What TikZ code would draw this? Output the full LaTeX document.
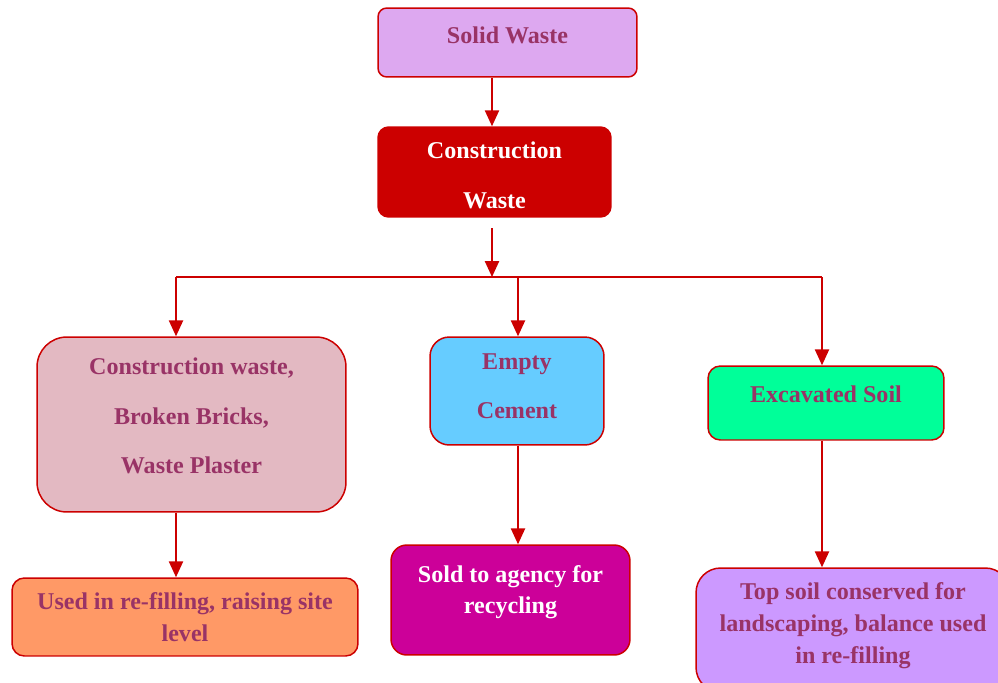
\documentclass[tikz,border=0pt]{standalone}
\usepackage{fontspec}
\setmainfont{Liberation Serif}
\usepackage{xcolor}
\usetikzlibrary{calc,arrows.meta,positioning}
\definecolor{lineRed}{RGB}{204,0,0}
\definecolor{textPlum}{RGB}{153,51,102}
\definecolor{fillLilac}{RGB}{221,168,240}
\definecolor{fillRose}{RGB}{227,185,194}
\definecolor{fillSky}{RGB}{102,204,255}
\definecolor{fillMint}{RGB}{0,255,153}
\definecolor{fillPeach}{RGB}{255,153,102}
\definecolor{fillMagenta}{RGB}{204,0,153}
\definecolor{fillViolet}{RGB}{204,153,255}
\tikzset{
  wbox/.style={draw=lineRed,line width=0.85pt,align=center,inner sep=2pt,
    font=\fontsize{13.7}{18}\selectfont\bfseries,text=textPlum},
  arr/.style={draw=lineRed,line width=1pt,-{Triangle[length=9pt,width=8pt]}},
  link/.style={draw=lineRed,line width=1pt}
}

\begin{document}
\begin{tikzpicture}[x=0.02cm,y=-0.02cm]
\clip (0,0) rectangle (998,683);
\useasboundingbox (0,0) rectangle (998,683);
% boxes
\node[wbox,fill=fillLilac,rounded corners=5pt,minimum width=5.18cm,minimum height=1.38cm,text depth=8.5pt] (solid) at (507.5,42.5) {Solid Waste};
\node[wbox,fill=lineRed,text=white,rounded corners=6pt,minimum width=4.66cm,minimum height=1.8cm,text depth=0pt] (constr) at (494.5,172) {\rule{0pt}{13pt}Construction\\[10pt]Waste};
\node[wbox,fill=fillRose,rounded corners=17pt,minimum width=6.18cm,minimum height=3.5cm,text depth=10pt] (bricks) at (191.5,424.5) {Construction waste,\\[10pt]Broken Bricks,\\[10pt]Waste Plaster};
\node[wbox,fill=fillSky,rounded corners=11pt,minimum width=3.48cm,minimum height=2.16cm,text depth=6pt] (cement) at (517,391) {Empty\\[10pt]Cement};
\node[wbox,fill=fillMint,rounded corners=7pt,minimum width=4.72cm,minimum height=1.48cm,text depth=10pt] (soil) at (826,403) {Excavated Soil};
\node[wbox,fill=fillPeach,rounded corners=7pt,minimum width=6.92cm,minimum height=1.56cm] (refill) at (185,617) {Used in re-filling, raising site\\level};
\node[wbox,fill=fillMagenta,text=white,rounded corners=9pt,minimum width=4.78cm,minimum height=2.2cm,text depth=12pt] (agency) at (510.5,600) {Sold to agency for\\recycling};
\node[wbox,fill=fillViolet,rounded corners=14pt,minimum width=6.28cm,minimum height=2.48cm,text depth=8pt] (topsoil) at (853,630) {Top soil conserved for\\landscaping, balance used\\in re-filling};
% connectors
\coordinate (start) at (492,228);
\coordinate (split) at (492,277);
\coordinate (colA) at (176,277);
\coordinate (colB) at (518,277);
\coordinate (colC) at (822,277);
\draw[arr] (492,0 |- solid.south) -- (492,0 |- constr.north);
\draw[arr] (start) -- (split);
\draw[link] (colA) -- (colC);
\draw[arr] (colA) -- (colA |- bricks.north);
\draw[arr] (colB) -- (colB |- cement.north);
\draw[arr] (colC) -- (colC |- soil.north);
\draw[arr] (colA |- bricks.south) -- (colA |- refill.north);
\draw[arr] (colB |- cement.south) -- (colB |- agency.north);
\draw[arr] (colC |- soil.south) -- (colC |- topsoil.north);
\end{tikzpicture}
\end{document}
